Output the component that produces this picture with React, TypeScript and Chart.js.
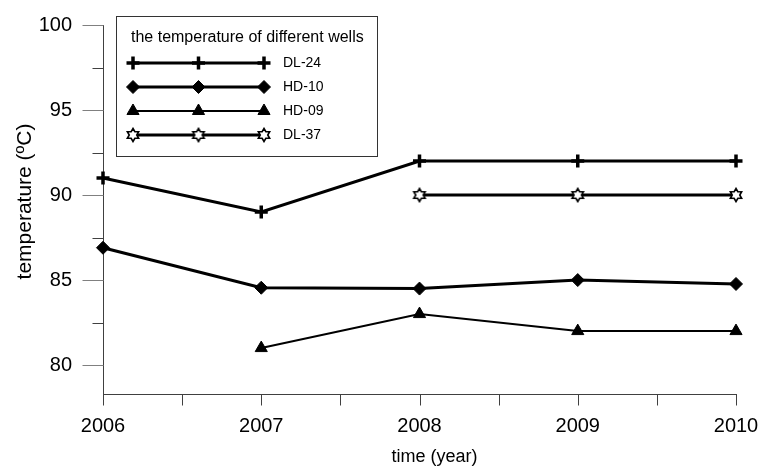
import { useEffect, useRef } from 'react';
import { Chart, registerables } from 'chart.js';
import { drawPoint } from 'chart.js/helpers';

Chart.register(...registerables);

// Measured well temperatures (°C) per year
const years = [2006, 2007, 2008, 2009, 2010];
const xTickLabels = ['2006', '2007', '2008', '2009', '2010'];
const xMinorTicks = [2006.5, 2007.5, 2008.5, 2009.5];
const dl24 = [91, 89, 92, 92, 92];
const hd10 = [86.9, 84.55, 84.5, 85.0, 84.77];
const hd09 = [null, 81, 83, 82, 82];
const dl37 = [null, null, 90, 90, 90];

const yMajorTicks = [80, 85, 90, 95, 100];
const yTickLabels = ['80', '85', '90', '95', '100'];
const yMinorTicks = [82.5, 87.5, 92.5, 97.5];

const seriesNames = ['DL-24', 'HD-10', 'HD-09', 'DL-37'];
const legendTitle = 'the temperature of different wells';
const xTitle = 'time (year)';
const yTitle = 'temperature (ºC)';

const FONT = "Arial, 'Liberation Sans', sans-serif";
const INK = '#000000';
const AXIS = '#404040';

// Outlined six-pointed star used as a point marker
function makeStar(): HTMLCanvasElement {
  const size = 16;
  const c = document.createElement('canvas');
  c.width = size;
  c.height = size;
  const g = c.getContext('2d')!;
  const cx = size / 2;
  const cy = size / 2;
  const outer = 6.5;
  const inner = outer / Math.sqrt(3);
  g.beginPath();
  for (let k = 0; k < 12; k++) {
    const r = k % 2 === 0 ? outer : inner;
    const a = -Math.PI / 2 + (k * Math.PI) / 6;
    const px = cx + r * Math.cos(a);
    const py = cy + r * Math.sin(a);
    if (k === 0) g.moveTo(px, py);
    else g.lineTo(px, py);
  }
  g.closePath();
  g.fillStyle = '#ffffff';
  g.fill();
  g.strokeStyle = INK;
  g.lineWidth = 1.6;
  g.stroke();
  return c;
}

const toPoints = (vals: (number | null)[]) => years.map((x, i) => ({ x, y: vals[i] }));

// Pin an axis box to a fixed size and drop the label overhang padding
const pinBox = (dim: 'width' | 'height', size: number) => (s: any) => {
  s[dim] = size;
  s.paddingTop = 0;
  s.paddingBottom = 0;
  s.paddingLeft = 0;
  s.paddingRight = 0;
};

export default function App() {
  const ref = useRef<HTMLCanvasElement | null>(null);

  useEffect(() => {
    const canvas = ref.current;
    if (!canvas) return;
    const star = makeStar();

    const markers = [
      { pointStyle: 'cross', radius: 6.5, borderWidth: 3.5, lineWidth: 3 },
      { pointStyle: 'rectRot', radius: 6.5, borderWidth: 1, lineWidth: 3 },
      { pointStyle: 'triangle', radius: 7, borderWidth: 1, lineWidth: 2 },
      { pointStyle: star as any, radius: 7, borderWidth: 1, lineWidth: 3 },
    ];
    const series = [dl24, hd10, hd09, dl37];

    const axisTicks = {
      id: 'axisTicks',
      beforeDatasetsDraw(chart: any) {
        const { ctx, scales } = chart;
        const xs = scales.x;
        const ys = scales.y;
        const ax = Math.round(ys.right) + 0.5;
        const ay = Math.round(xs.top) + 0.5;
        ctx.save();
        ctx.lineWidth = 1;
        ctx.strokeStyle = '#808080';
        yMajorTicks.forEach((v) => {
          const py = Math.round(ys.getPixelForValue(v)) + 0.5;
          ctx.beginPath();
          ctx.moveTo(ax - 21, py);
          ctx.lineTo(ax, py);
          ctx.stroke();
        });
        ctx.strokeStyle = AXIS;
        yMinorTicks.forEach((v) => {
          const py = Math.round(ys.getPixelForValue(v)) + 0.5;
          ctx.beginPath();
          ctx.moveTo(ax - 11, py);
          ctx.lineTo(ax, py);
          ctx.stroke();
        });
        [...years, ...xMinorTicks].forEach((v) => {
          const px = Math.round(xs.getPixelForValue(v)) + 0.5;
          ctx.beginPath();
          ctx.moveTo(px, ay);
          ctx.lineTo(px, ay + 11);
          ctx.stroke();
        });
        ctx.restore();
      },
    };

    const axisTitles = {
      id: 'axisTitles',
      afterDraw(chart: any) {
        const { ctx, chartArea } = chart;
        ctx.save();
        ctx.fillStyle = INK;
        ctx.textAlign = 'center';
        ctx.textBaseline = 'middle';
        ctx.font = `18px ${FONT}`;
        ctx.fillText(xTitle, (chartArea.left + chartArea.right) / 2 + 15, 457);
        ctx.translate(25, (chartArea.top + chartArea.bottom) / 2 - 8);
        ctx.rotate(-Math.PI / 2);
        ctx.font = `21px ${FONT}`;
        ctx.fillText(yTitle, 0, 0);
        ctx.restore();
      },
    };

    const boxLegend = {
      id: 'boxLegend',
      afterDraw(chart: any) {
        const { ctx } = chart;
        ctx.save();
        ctx.strokeStyle = '#333333';
        ctx.lineWidth = 1;
        ctx.strokeRect(116.5, 16.5, 261, 140);
        ctx.fillStyle = INK;
        ctx.textBaseline = 'middle';
        ctx.textAlign = 'left';
        ctx.font = `16px ${FONT}`;
        ctx.fillText(legendTitle, 131, 38);
        const x0 = 133;
        const x1 = 264;
        seriesNames.forEach((name, i) => {
          const y = 63 + 24 * i;
          const m = markers[i];
          ctx.strokeStyle = INK;
          ctx.lineWidth = m.lineWidth;
          ctx.beginPath();
          ctx.moveTo(x0, y);
          ctx.lineTo(x1, y);
          ctx.stroke();
          [x0, (x0 + x1) / 2, x1].forEach((mx) => {
            ctx.fillStyle = INK;
            ctx.strokeStyle = INK;
            ctx.lineWidth = m.borderWidth;
            drawPoint(ctx, { pointStyle: m.pointStyle, radius: m.radius, rotation: 0, borderWidth: m.borderWidth } as any, mx, y);
          });
          ctx.fillStyle = INK;
          ctx.font = `14px ${FONT}`;
          ctx.fillText(name, 283, y);
        });
        ctx.restore();
      },
    };

    const chart = new Chart(canvas, {
      type: 'line',
      data: {
        datasets: series.map((vals, i) => ({
          label: seriesNames[i],
          data: toPoints(vals) as any,
          borderColor: INK,
          backgroundColor: INK,
          borderWidth: markers[i].lineWidth,
          pointStyle: markers[i].pointStyle as any,
          pointRadius: markers[i].radius,
          pointBorderWidth: markers[i].borderWidth,
          pointBackgroundColor: INK,
          pointBorderColor: INK,
          tension: 0,
          fill: false,
          clip: false as any,
        })),
      },
      options: {
        animation: false,
        responsive: false,
        maintainAspectRatio: false,
        layout: { padding: { top: 25, right: 33, left: 0, bottom: 0 } },
        plugins: {
          legend: { display: false },
          tooltip: { enabled: false },
        },
        scales: {
          x: {
            type: 'linear',
            min: 2006,
            max: 2010,
            afterBuildTicks: (s: any) => {
              s.ticks = years.map((v) => ({ value: v }));
            },
            afterFit: pinBox('height', 74),
            ticks: {
              callback: (_v: any, i: number) => xTickLabels[i],
              font: { family: FONT, size: 20 },
              color: INK,
              padding: 20,
              maxRotation: 0,
              autoSkip: false,
            },
            grid: { display: false, drawTicks: false },
            border: { display: true, color: AXIS, width: 1 },
          },
          y: {
            type: 'linear',
            min: 78.3,
            max: 100,
            afterBuildTicks: (s: any) => {
              s.ticks = yMajorTicks.map((v) => ({ value: v }));
            },
            afterFit: pinBox('width', 103),
            ticks: {
              callback: (_v: any, i: number) => yTickLabels[i],
              font: { family: FONT, size: 20 },
              color: INK,
              padding: 31,
              autoSkip: false,
            },
            grid: { display: false, drawTicks: false },
            border: { display: true, color: AXIS, width: 1 },
          },
        },
      },
      plugins: [axisTicks, axisTitles, boxLegend],
    });

    return () => chart.destroy();
  }, []);

  return (
    <div style={{ position: 'fixed', left: 0, top: 0, width: 769, height: 468, background: '#fff' }}>
      <canvas ref={ref} width={769} height={468} style={{ display: 'block' }} />
    </div>
  );
}
